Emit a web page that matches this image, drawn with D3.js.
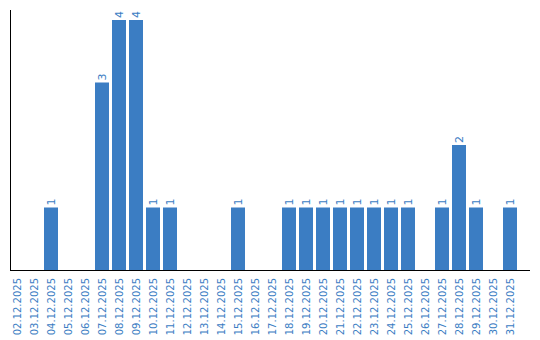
<!DOCTYPE html>
<html>
<head>
<meta charset="utf-8">
<script src="https://cdn.jsdelivr.net/npm/d3@7"></script>
<style>
  body { margin: 0; background: #fff; }
  text { font-family: "DejaVu Sans", Verdana, sans-serif; }
</style>
</head>
<body>
<div id="chart-area"></div>
<script>
const days = ["02.12.2025", "03.12.2025", "04.12.2025", "05.12.2025", "06.12.2025",
  "07.12.2025", "08.12.2025", "09.12.2025", "10.12.2025", "11.12.2025",
  "12.12.2025", "13.12.2025", "14.12.2025", "15.12.2025", "16.12.2025",
  "17.12.2025", "18.12.2025", "19.12.2025", "20.12.2025", "21.12.2025",
  "22.12.2025", "23.12.2025", "24.12.2025", "25.12.2025", "26.12.2025",
  "27.12.2025", "28.12.2025", "29.12.2025", "30.12.2025", "31.12.2025"];
const counts = [0, 0, 1, 0, 0, 3, 4, 4, 1, 1,
  0, 0, 0, 1, 0, 0, 1, 1, 1, 1,
  1, 1, 1, 1, 0, 1, 2, 1, 0, 1];

const data = days.map((d, i) => ({ day: d, count: counts[i] }));

const svgWidth = 540;
const svgHeight = 340;
const blue = "#3b7dc3";

const svg = d3.select("#chart-area")
              .append("svg")
              .attr("width", svgWidth)
              .attr("height", svgHeight);

const x = d3.scaleBand()
            .domain(days)
            .range([10, 517])
            .paddingInner(3 / 17)
            .paddingOuter(0);

const y = d3.scaleLinear()
            .domain([0, 4])
            .range([270, 20]);

// bars
svg.selectAll("rect.bar")
   .data(data.filter(d => d.count > 0))
   .enter()
   .append("rect")
     .attr("class", "bar")
     .attr("x", d => x(d.day))
     .attr("y", d => y(d.count))
     .attr("width", x.bandwidth())
     .attr("height", d => y(0) - y(d.count))
     .attr("fill", blue);

// value labels
svg.selectAll("text.val")
   .data(data.filter(d => d.count > 0))
   .enter()
   .append("text")
     .attr("class", "val")
     .attr("transform", d => `translate(${x(d.day) + x.bandwidth() / 2}, ${y(d.count) - 2}) rotate(-90)`)
     .attr("dy", "0.38em")
     .attr("font-size", 11)
     .attr("fill", blue)
     .text(d => d.count);

// axes lines
svg.append("line")
   .attr("x1", 10.5).attr("x2", 10.5)
   .attr("y1", 10).attr("y2", 270)
   .attr("stroke", "#000");

svg.append("line")
   .attr("x1", 10).attr("x2", 530)
   .attr("y1", 270.5).attr("y2", 270.5)
   .attr("stroke", "#000");

// category labels
svg.selectAll("text.cat")
   .data(days)
   .enter()
   .append("text")
     .attr("class", "cat")
     .attr("transform", d => `translate(${x(d) + x.bandwidth() / 2}, 278) rotate(-90)`)
     .attr("text-anchor", "end")
     .attr("dy", "0.35em")
     .attr("font-size", 10)
     .attr("fill", blue)
     .text(d => d);
</script>
</body>
</html>
